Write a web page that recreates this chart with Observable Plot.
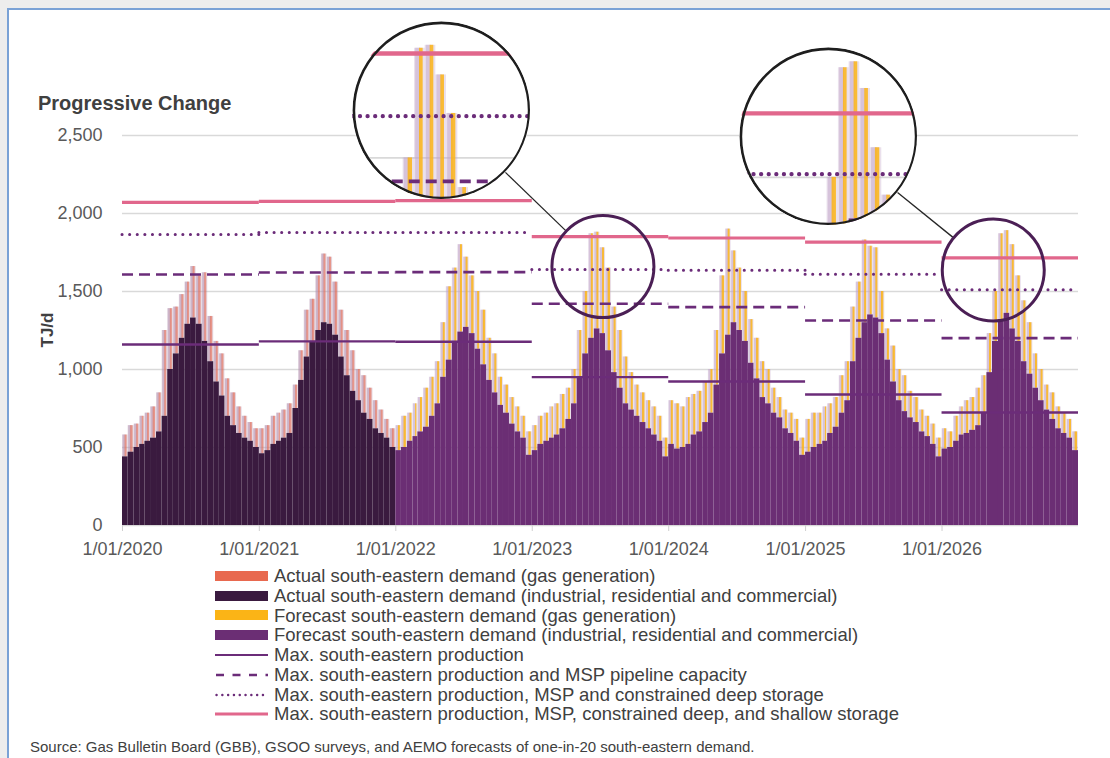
<!DOCTYPE html>
<html><head><meta charset="utf-8">
<script src="https://cdn.jsdelivr.net/npm/d3@7"></script>
<script src="https://cdn.jsdelivr.net/npm/@observablehq/plot@0.6"></script>
<style>
html,body{margin:0;padding:0;}
body{width:1110px;height:758px;position:relative;overflow:hidden;background:#ededed;font-family:"Liberation Sans",Arial,Helvetica,sans-serif;color:#404040;}
#card{position:absolute;left:7px;top:8px;width:1200px;height:800px;background:#fff;border-left:2px solid #7aa2d6;border-top:2px solid #7aa2d6;}
#main{position:absolute;left:0;top:0;}
#title{position:absolute;left:38px;top:93px;font-size:20px;font-weight:bold;line-height:20px;color:#404040;white-space:nowrap;}
#ylab{position:absolute;left:48px;top:330px;transform:translate(-50%,-50%) rotate(-90deg);font-size:17px;font-weight:bold;color:#404040;white-space:nowrap;}
#legend{position:absolute;left:215px;top:566px;}
.row{height:19.8px;display:flex;align-items:center;font-size:18.5px;color:#404040;white-space:nowrap;}
.row svg{width:53px;height:12px;margin-right:6px;flex:none;}
#source{position:absolute;left:30px;top:738px;font-size:15px;color:#404040;white-space:nowrap;}
.inset{position:absolute;border-radius:50%;overflow:hidden;background:#fff;}
</style></head><body>
<div id="card"></div>
<div id="main"></div>
<div id="title">Progressive Change</div>
<div id="ylab">TJ/d</div>
<div id="legend"></div>
<div id="source">Source: Gas Bulletin Board (GBB), GSOO surveys, and AEMO forecasts of one-in-20 south-eastern demand.</div>
<script>
// ---------------- DATA ----------------
const years = [2020, 2021, 2022, 2023, 2024, 2025, 2026];
const yTicks = [0, 500, 1000, 1500, 2000, 2500];

// half-monthly values (1st and 16th of each month), TJ/d
// Actual 2020-2021: industrial, residential and commercial demand (typical level)
const industrialActual = [
  440,470, 500,520, 540,560, 600,700, 1000,1100, 1200,1290, 1330,1290, 1180,1050, 920,830, 700,640, 590,560, 540,500,
  460,480, 520,540, 560,590, 750,930, 1080,1180, 1250,1300, 1290,1220, 1080,960, 860,800, 720,680, 620,590, 560,500
];
// Actual 2020-2021: peak total daily demand incl. gas generation
const peakActual = [
  580,640, 650,700, 720,760, 850,1250, 1390,1400, 1480,1560, 1660,1600, 1620,1340, 1180,1100, 940,850, 760,700, 660,620,
  620,640, 700,720, 740,780, 900,1120, 1380,1450, 1600,1740, 1720,1560, 1380,1250, 1120,1000, 960,880, 800,740, 680,620
];
// Forecast 2022-2026: industrial, residential and commercial demand
const industrialForecast = [
  480,500, 540,570, 600,630, 700,780, 950,1060, 1180,1240, 1270,1230, 1130,1030, 930,850, 770,720, 650,600, 560,450,
  480,520, 540,560, 580,620, 680,780, 950,1100, 1200,1260, 1230,1120, 980,880, 780,740, 700,660, 620,580, 540,440,
  520,490, 500,520, 580,600, 660,720, 900,1100, 1220,1300, 1250,1180, 1040,940, 820,780, 720,690, 620,590, 540,450,
  470,500, 520,540, 590,630, 720,800, 1050,1200, 1300,1350, 1330,1230, 1060,920, 800,730, 690,660, 600,570, 520,440,
  490,500, 540,580, 590,610, 640,720, 980,1180, 1320,1360, 1260,1180, 1050,970, 880,800, 740,680, 620,590, 560,480
];
// Forecast 2022-2026: peak total daily demand incl. gas generation
const peakForecast = [
  640,700, 720,780, 820,880, 950,1050, 1300,1530, 1650,1800, 1720,1600, 1500,1380, 1200,1100, 950,900, 820,760, 700,600,
  640,700, 720,760, 780,840, 880,1000, 1250,1500, 1870,1880, 1780,1650, 1400,1250, 1080,980, 900,850, 800,760, 700,560,
  800,780, 760,820, 840,860, 920,1000, 1250,1600, 1900,1760, 1650,1500, 1320,1200, 1050,1000, 880,820, 740,720, 680,560,
  680,720, 720,760, 780,820, 960,1050, 1400,1560, 1830,1790, 1780,1500, 1260,1150, 1000,960, 860,820, 740,700, 650,560,
  620,600, 700,760, 800,820, 880,960, 1230,1500, 1870,1890, 1800,1600, 1440,1300, 1100,1000, 900,850, 760,720, 680,600
];

// Annual supply capacity levels, TJ/d
const maxProduction   = [1160, 1180, 1178, 951, 923, 840, 724];
const maxProdMsp      = [1609, 1622, 1624, 1421, 1400, 1314, 1201];
const maxProdMspDeep  = [1865, 1878, 1878, 1641, 1637, 1610, 1511];
const maxProdMspAll   = [2071, 2078, 2083, 1852, 1843, 1816, 1716];

// Magnified regions (small circle centres) and their enlarged views
const zoomDates  = ["2023-07-09", "2026-05-18"];
const zoomValues = [1660, 1638];
const bigDates   = ["2022-05-03", "2025-03-03"];
const bigValues  = [2660, 2494];

const legendLabels = [
  "Actual south-eastern demand (gas generation)",
  "Actual south-eastern demand (industrial, residential and commercial)",
  "Forecast south-eastern demand (gas generation)",
  "Forecast south-eastern demand (industrial, residential and commercial)",
  "Max. south-eastern production",
  "Max. south-eastern production and MSP pipeline capacity",
  "Max. south-eastern production, MSP and constrained deep storage",
  "Max. south-eastern production, MSP, constrained deep, and shallow storage"
];

// ---------------- STYLE ----------------
const C = {aGas:"#e8694f", aInd:"#3a1a3f", fGas:"#fbb416", fInd:"#6b2e74", prod:"#6b2c79", pink:"#e1678c",
           aFringe:"#b592b0", fFringe:"#c2a6c9"};
const R_BIG = 89, R_SMALL = 51, MAG = 1.9;

// ---------------- BUILD ----------------
const d = (y,m,day)=>new Date(Date.UTC(y,m,day));
function periods(y0, n){
  const out=[];
  for(let y=y0;y<y0+n;y++) for(let m=0;m<12;m++){ out.push([d(y,m,1), d(y,m,16)]); out.push([d(y,m,16), d(y,m+1,1)]); }
  return out;
}
const recA = periods(2020,2).map(([a,b],i)=>({x1:a,x2:b,base:industrialActual[i],peak:peakActual[i]}));
const recF = periods(2022,5).map(([a,b],i)=>({x1:a,x2:b,base:industrialForecast[i],peak:peakForecast[i]}));
const segs = vals => years.map((y,i)=>({x1:d(y,0,1), x2:d(y+1,0,1), v:vals[i]}));
const zoomSpots = zoomDates.map((s,i)=>({date:new Date(s), value:zoomValues[i]}));
const bigSpots  = bigDates.map((s,i)=>({date:new Date(s), value:bigValues[i]}));

function layers(o){
  const R = {x1:"x1", x2:"x2"};
  return [
    Plot.ruleY(yTicks, {stroke:"#d9d9d9", strokeWidth:1.3*o.lw}),
    Plot.rect(recA, {...R, y1:"base", y2:"peak", fill:C.aFringe, fillOpacity:0.35}),
    Plot.rect(recA, {...R, y1:"base", y2:"peak", fill:C.aFringe, fillOpacity:0.5, insetLeft:o.fl, insetRight:o.fr}),
    Plot.rect(recA, {...R, y1:"base", y2:"peak", fill:C.aGas, fillOpacity:0.6, insetLeft:o.gl, insetRight:o.gr}),
    Plot.rect(recF, {...R, y1:"base", y2:"peak", fill:C.fFringe, fillOpacity:0.35}),
    Plot.rect(recF, {...R, y1:"base", y2:"peak", fill:C.fFringe, fillOpacity:0.5, insetLeft:o.fl, insetRight:o.fr}),
    Plot.rect(recF, {...R, y1:"base", y2:"peak", fill:C.fGas, fillOpacity:0.85, insetLeft:o.gl, insetRight:o.gr}),
    Plot.rect(recA, {...R, y1:0, y2:"base", fill:C.aInd}),
    Plot.rect(recF, {...R, y1:0, y2:"base", fill:C.fInd}),
    Plot.ruleY(segs(maxProduction), {y:"v", x1:"x1", x2:"x2", stroke:C.prod, strokeWidth:2.4*o.lw}),
    Plot.ruleY(segs(maxProdMsp), {y:"v", x1:"x1", x2:"x2", stroke:C.prod, strokeWidth:2.6*o.lw, strokeDasharray:"11,6"}),
    Plot.ruleY(segs(maxProdMspDeep), {y:"v", x1:"x1", x2:"x2", stroke:C.prod, strokeWidth:3*o.lw, strokeDasharray:"0.1,7.5", strokeLinecap:"round"}),
    Plot.ruleY(segs(maxProdMspAll), {y:"v", x1:"x1", x2:"x2", stroke:C.pink, strokeWidth:3.2*o.lw})
  ];
}

const W=1110, H=560, ML=122, MR=32, MT=135, MB=35;
const xDomain=[d(2020,0,1), d(2027,0,1)];
const xs = Plot.scale({x:{type:"utc", domain:xDomain, range:[ML, W-MR]}});
const ys = Plot.scale({y:{type:"linear", domain:[0,2500], range:[H-MB, MT]}});

const connectors = zoomSpots.map((s,i)=>{
  const b=bigSpots[i];
  const bx=xs.apply(b.date), by=ys.apply(b.value), sx=xs.apply(s.date), sy=ys.apply(s.value);
  const L=Math.hypot(sx-bx, sy-by), ux=(sx-bx)/L, uy=(sy-by)/L;
  return {x1:xs.invert(bx+ux*R_BIG), y1:ys.invert(by+uy*R_BIG), x2:xs.invert(sx-ux*R_SMALL), y2:ys.invert(sy-uy*R_SMALL)};
});

const baseStyle = {background:"transparent", fontFamily:"'Liberation Sans', Arial, sans-serif", fontSize:"18px", color:"#595959", overflow:"visible"};

const main = Plot.plot({
  width:W, height:H, marginLeft:ML, marginRight:MR, marginTop:MT, marginBottom:MB,
  x:{type:"utc", domain:xDomain}, y:{domain:[0,2500]},
  style:baseStyle,
  marks:[
    ...layers({lw:1, fl:0.6, fr:2.4, gl:2.6, gr:1.0}),
    Plot.axisY({ticks:yTicks, tickSize:0, tickPadding:20, tickFormat:d3.format(","), label:null, fill:"#595959", fontSize:18}),
    Plot.axisX({ticks:years.map(y=>d(y,0,1)), tickSize:6, tickPadding:11, tickFormat:d3.utcFormat("%-d/%m/%Y"), label:null, stroke:"#d0d0d0", fill:"#595959", fontSize:18}),
    Plot.link(connectors, {x1:"x1", y1:"y1", x2:"x2", y2:"y2", stroke:"#262626", strokeWidth:1.3}),
    Plot.dot(zoomSpots, {x:"date", y:"value", r:R_SMALL, stroke:"#4b1f55", strokeWidth:3, fill:"none"})
  ]
});
document.getElementById("main").appendChild(main);

// enlarged circular views
zoomSpots.forEach((s,i)=>{
  const b=bigSpots[i];
  const sx=xs.apply(s.date), sy=ys.apply(s.value), h=R_BIG/MAG;
  const p = Plot.plot({
    width:2*R_BIG, height:2*R_BIG, margin:0,
    x:{type:"utc", domain:[xs.invert(sx-h), xs.invert(sx+h)], axis:null},
    y:{domain:[ys.invert(sy+h), ys.invert(sy-h)], axis:null},
    style:{...baseStyle, background:"#fff"},
    marks:[
      ...layers({lw:1.4, fl:1.2, fr:4.6, gl:5.0, gr:2.0}),
      Plot.dot([s], {x:"date", y:"value", r:R_BIG-1.4, stroke:"#1e1e1e", strokeWidth:2.6, fill:"none"})
    ]
  });
  const div=document.createElement("div");
  div.className="inset";
  div.style.left=(xs.apply(b.date)-R_BIG)+"px";
  div.style.top=(ys.apply(b.value)-R_BIG)+"px";
  div.style.width=(2*R_BIG)+"px"; div.style.height=(2*R_BIG)+"px";
  div.appendChild(p);
  document.body.appendChild(div);
});

// legend
const swatches = [
  `<rect x="0" y="1" width="53" height="10" fill="${C.aGas}"/>`,
  `<rect x="0" y="1" width="53" height="10" fill="${C.aInd}"/>`,
  `<rect x="0" y="1" width="53" height="10" fill="${C.fGas}"/>`,
  `<rect x="0" y="1" width="53" height="10" fill="${C.fInd}"/>`,
  `<line x1="0" x2="53" y1="6" y2="6" stroke="${C.prod}" stroke-width="2.2"/>`,
  `<line x1="1" x2="53" y1="6" y2="6" stroke="${C.prod}" stroke-width="2.4" stroke-dasharray="8,8.5"/>`,
  `<line x1="1.5" x2="53" y1="6" y2="6" stroke="${C.prod}" stroke-width="2.4" stroke-dasharray="0.1,5.7" stroke-linecap="round"/>`,
  `<line x1="0" x2="53" y1="6" y2="6" stroke="${C.pink}" stroke-width="3"/>`
];
const lg=document.getElementById("legend");
legendLabels.forEach((t,i)=>{
  const row=document.createElement("div"); row.className="row";
  row.innerHTML=`<svg viewBox="0 0 53 12">${swatches[i]}</svg><span>${t}</span>`;
  lg.appendChild(row);
});
</script></body></html>
